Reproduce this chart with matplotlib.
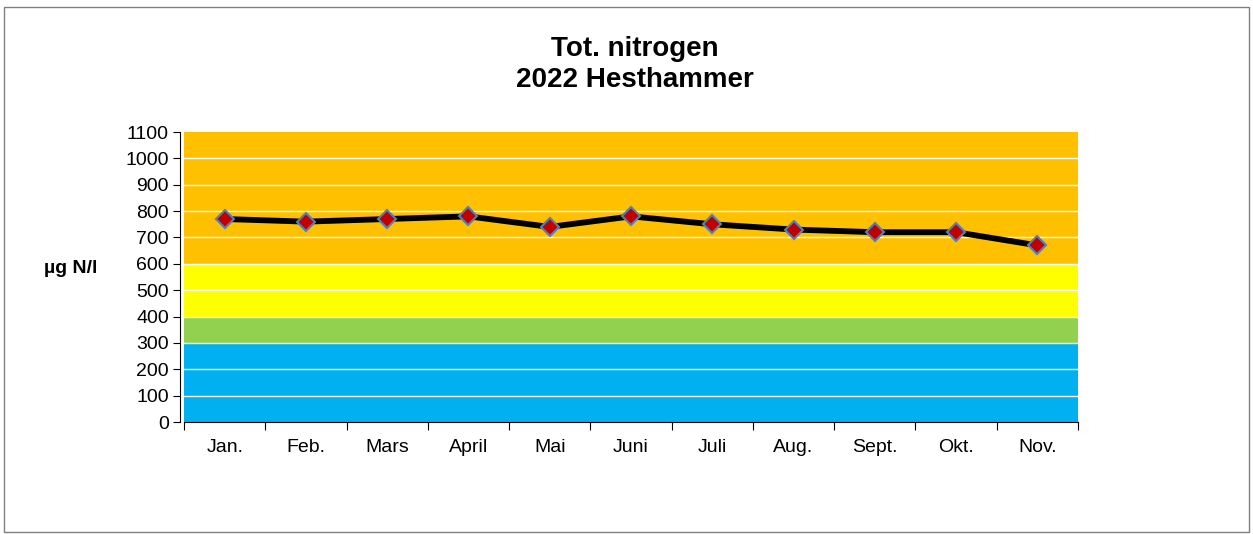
import matplotlib
matplotlib.use("Agg")
import matplotlib.pyplot as plt
from matplotlib.patches import Rectangle

plt.rcParams['font.family'] = ['Liberation Sans', 'DejaVu Sans']

months = ['Jan.', 'Feb.', 'Mars', 'April', 'Mai', 'Juni', 'Juli', 'Aug.', 'Sept.', 'Okt.', 'Nov.']
tot_n = [770, 760, 770, 780, 740, 780, 750, 730, 720, 720, 670]

# class limits (µg N/l) and colours
band_edges = [0, 300, 400, 600, 1100]
band_colors = ['#00B0F0', '#92D050', '#FFFF00', '#FFC000']

fig = plt.figure(figsize=(12.53, 5.34), dpi=100)
fig.patches.append(Rectangle((0.003, 0.004), 0.994, 0.983, transform=fig.transFigure,
                             fill=False, edgecolor='#808080', linewidth=1.0))
ax = fig.add_axes([0.1469, 0.2097, 0.7134, 0.5431])

x = list(range(len(months)))
for i in range(len(band_colors)):
    ax.axhspan(band_edges[i], band_edges[i + 1], color=band_colors[i], lw=0, zorder=0)
for y in range(100, 1100, 100):
    ax.axhline(y, color='white', lw=1.0, zorder=1)

ax.plot(x, tot_n, color='black', lw=4.2, marker='D', markersize=9.5,
        markerfacecolor='#C00000', markeredgecolor='#4F81BD', markeredgewidth=1.5, zorder=3)

ax.set_xlim(-0.5, len(months) - 0.5)
ax.set_ylim(0, 1100)
ax.set_yticks(range(0, 1101, 100))
ax.set_xticks([i - 0.5 for i in range(len(months) + 1)])
ax.set_xticklabels([])
ax.set_xticks(x, minor=True)
ax.set_xticklabels(months, minor=True)
ax.tick_params(axis='x', which='minor', length=0, pad=12, labelsize=14)
ax.tick_params(axis='x', which='major', length=6, direction='out')
ax.tick_params(axis='y', length=5, labelsize=14, pad=3)

for s in ['top', 'right']:
    ax.spines[s].set_visible(False)
ax.spines['left'].set_position(('outward', 3))

fig.text(0.0774, 0.498, 'µg N/l', ha='right', va='center', fontsize=14, fontweight='bold')
fig.text(0.507, 0.880, 'Tot. nitrogen\n2022 Hesthammer', ha='center', va='center',
         fontsize=20, fontweight='bold', linespacing=1.25)

fig.savefig('out.png', dpi=100)
